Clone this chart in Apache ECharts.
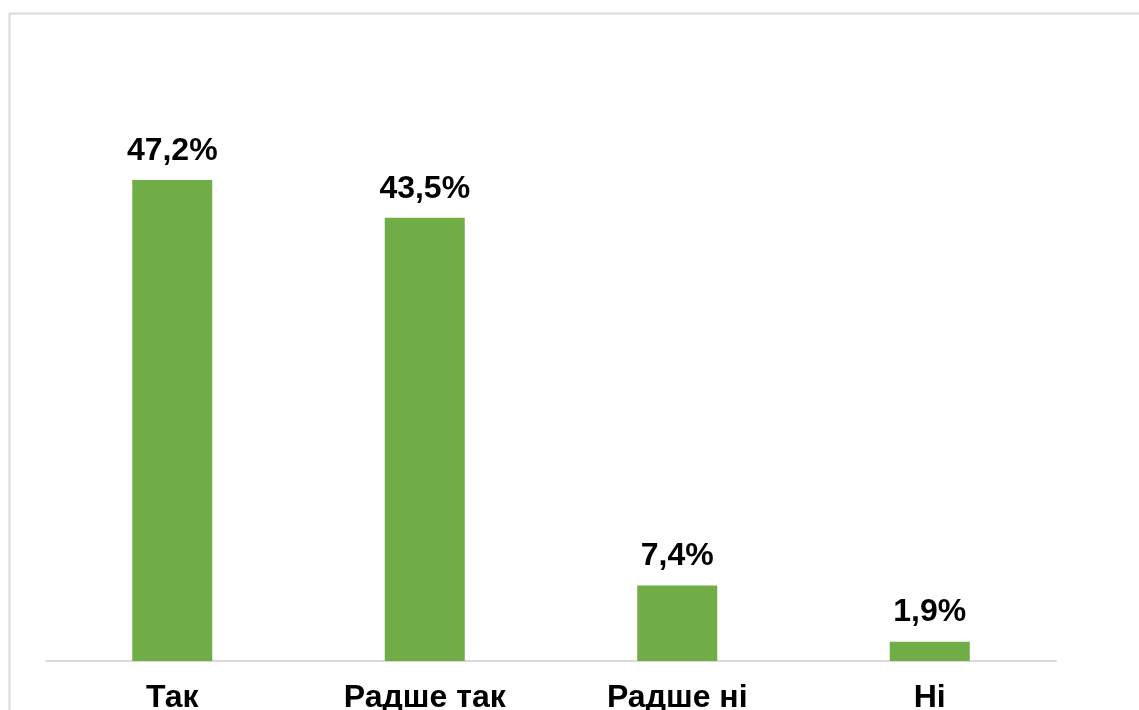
<!DOCTYPE html>
<html>
<head>
<meta charset="utf-8">
<script src="https://cdn.jsdelivr.net/npm/echarts@6/dist/echarts.min.js"></script>
<style>
html,body{margin:0;padding:0;background:#fff;}
#c{width:1139px;height:710px;}
</style>
</head>
<body>
<div id="c"></div>
<script>
const categories = ['Так', 'Радше так', 'Радше ні', 'Ні'];
const values = [47.2, 43.5, 7.4, 1.9];

const chart = echarts.init(document.getElementById('c'), null, {renderer: 'canvas'});
const yMax = 50;
const pxPerUnit = 10.19;
const axisY = 661;
chart.setOption({
  animation: false,
  backgroundColor: '#fff',
  graphic: [{
    type: 'rect',
    shape: {x: 9.5, y: 13.5, width: 1140, height: 720},
    style: {fill: 'none', stroke: '#d9d9d9', lineWidth: 2},
    silent: true
  }],
  grid: {left: 46, right: 83, top: axisY - yMax * pxPerUnit, bottom: 710 - axisY,
         containLabel: false, outerBoundsMode: 'none'},
  xAxis: {
    type: 'category',
    data: categories,
    axisLine: {show: true, lineStyle: {color: '#d9d9d9', width: 2}},
    axisTick: {show: false},
    axisLabel: {
      color: '#000', fontFamily: 'Liberation Sans, Arial, sans-serif',
      fontWeight: 'bold', fontSize: 32, margin: 21
    }
  },
  yAxis: {
    type: 'value', min: 0, max: yMax, interval: 10,
    show: false, splitLine: {show: false}
  },
  series: [{
    type: 'bar',
    data: values,
    barWidth: 80,
    itemStyle: {color: '#70AD47'},
    label: {
      show: true, position: 'top', distance: 13,
      formatter: p => String(p.value.toFixed(1)).replace('.', ',') + '%',
      color: '#000', fontFamily: 'Liberation Sans, Arial, sans-serif',
      fontWeight: 'bold', fontSize: 32
    }
  }]
});
</script>
</body>
</html>
